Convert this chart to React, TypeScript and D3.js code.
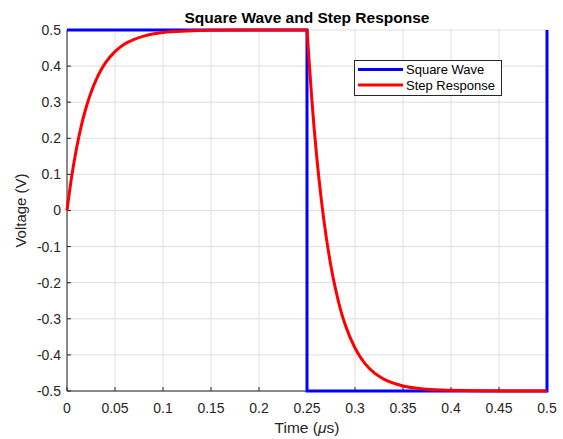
import React from 'react';
import * as d3 from 'd3';

// values
const xTicks = [0, 0.05, 0.1, 0.15, 0.2, 0.25, 0.3, 0.35, 0.4, 0.45, 0.5];
const yTicks = [0.5, 0.4, 0.3, 0.2, 0.1, 0, -0.1, -0.2, -0.3, -0.4, -0.5];

const squareT = [0, 0.25, 0.25, 0.5, 0.5];
const squareV = [0.5, 0.5, -0.5, -0.5, 0.5];

const riseT = [0, 0.005, 0.01, 0.015, 0.02, 0.025, 0.03, 0.035, 0.04, 0.05, 0.06, 0.07, 0.08, 0.1, 0.125, 0.15, 0.2, 0.25];
const riseV = [0, 0.096, 0.173, 0.236, 0.286, 0.327, 0.360, 0.387, 0.409, 0.440, 0.461, 0.474, 0.483, 0.493, 0.497, 0.499, 0.5, 0.5];

const fallT = [0.25, 0.255, 0.26, 0.265, 0.27, 0.275, 0.28, 0.285, 0.29, 0.3, 0.31, 0.32, 0.33, 0.35, 0.375, 0.4, 0.45, 0.5];
const fallV = [0.5, 0.308, 0.153, 0.028, -0.073, -0.155, -0.221, -0.275, -0.318, -0.381, -0.423, -0.450, -0.467, -0.486, -0.495, -0.498, -0.5, -0.5];

const W = 563;
const H = 439;
const left = 67, right = 547, top = 30, bottom = 391;
const font = "'Liberation Sans', Arial, Helvetica, sans-serif";
const axisColor = '#262626';

export default function App() {
  const x = d3.scaleLinear().domain([0, 0.5]).range([left, right]);
  const y = d3.scaleLinear().domain([-0.5, 0.5]).range([bottom, top]);

  const line = d3.line<[number, number]>()
    .x(d => x(d[0]))
    .y(d => y(d[1]));
  const smooth = d3.line<[number, number]>()
    .x(d => x(d[0]))
    .y(d => y(d[1]))
    .curve(d3.curveMonotoneX);

  const square: [number, number][] = squareT.map((t, i) => [t, squareV[i]]);
  const rise: [number, number][] = riseT.map((t, i) => [t, riseV[i]]);
  const fall: [number, number][] = fallT.map((t, i) => [t, fallV[i]]);

  const fmt = (v: number) => (v === 0 ? '0' : String(v));

  return (
    <svg width={W} height={H} style={{ position: 'absolute', left: 0, top: 0, background: '#fff' }}
      fontFamily={font}>
      {/* grid */}
      {xTicks.map(t => (
        <line key={'gx' + t} x1={x(t)} x2={x(t)} y1={top} y2={bottom} stroke="#dfdfdf" strokeWidth={1} />
      ))}
      {yTicks.map(t => (
        <line key={'gy' + t} x1={left} x2={right} y1={y(t)} y2={y(t)} stroke="#dfdfdf" strokeWidth={1} />
      ))}

      {/* axes */}
      <line x1={left} x2={left} y1={top} y2={bottom} stroke={axisColor} strokeWidth={1} />
      <line x1={left} x2={right} y1={bottom} y2={bottom} stroke={axisColor} strokeWidth={1} />
      {xTicks.map(t => (
        <g key={'tx' + t}>
          <line x1={x(t)} x2={x(t)} y1={bottom} y2={bottom - 4} stroke={axisColor} />
          <text x={x(t)} y={bottom + 22} textAnchor="middle" fontSize={14} fill={axisColor}>{fmt(t)}</text>
        </g>
      ))}
      {yTicks.map(t => (
        <g key={'ty' + t}>
          <line x1={left} x2={left + 4} y1={y(t)} y2={y(t)} stroke={axisColor} />
          <text x={left - 6} y={y(t)} dy="0.35em" textAnchor="end" fontSize={14} fill={axisColor}>{fmt(t)}</text>
        </g>
      ))}

      {/* series */}
      <path d={line(square) || ''} fill="none" stroke="#0000ff" strokeWidth={3} />
      <path d={smooth(rise) || ''} fill="none" stroke="#ff0000" strokeWidth={3} strokeLinejoin="round" />
      <path d={smooth(fall) || ''} fill="none" stroke="#ff0000" strokeWidth={3} strokeLinejoin="round" />

      {/* title & labels */}
      <text x={(left + right) / 2} y={23} textAnchor="middle" fontSize={15.5} fontWeight="bold" fill="#000">
        Square Wave and Step Response
      </text>
      <text x={(left + right) / 2} y={433} textAnchor="middle" fontSize={15.5} fill={axisColor}>
        Time (<tspan fontStyle="italic">μ</tspan>s)
      </text>
      <text transform={`translate(26,${(top + bottom) / 2}) rotate(-90)`} textAnchor="middle" fontSize={15} fill={axisColor}>
        Voltage (V)
      </text>

      {/* legend */}
      <g>
        <rect x={354.5} y={60.5} width={147} height={35} fill="#fff" stroke={axisColor} strokeWidth={1} />
        <line x1={358} x2={403} y1={69.5} y2={69.5} stroke="#0000ff" strokeWidth={3} />
        <text x={406} y={69.5} dy="0.35em" fontSize={13} fill="#000">Square Wave</text>
        <line x1={358} x2={403} y1={85} y2={85} stroke="#ff0000" strokeWidth={3} />
        <text x={406} y={85} dy="0.35em" fontSize={13} fill="#000">Step Response</text>
      </g>
    </svg>
  );
}
